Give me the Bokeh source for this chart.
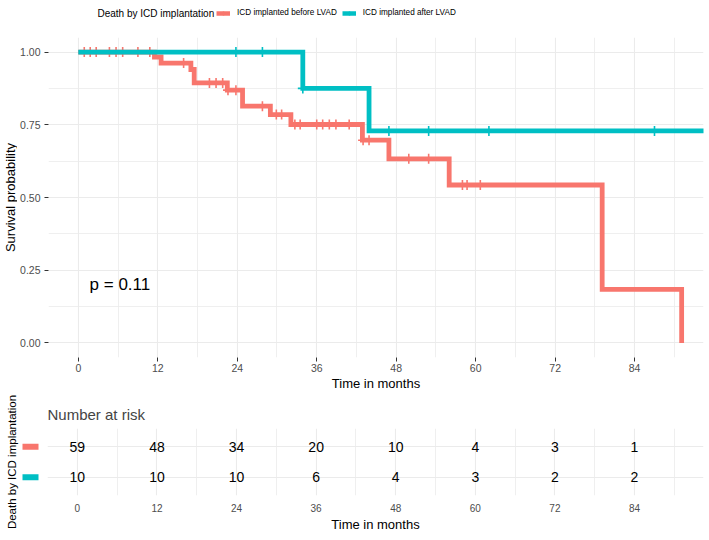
import numpy as np
from bokeh.plotting import figure
from bokeh.layouts import column, row
from bokeh.models import Range1d, FixedTicker, Legend, LegendItem, PrintfTickFormatter
from bokeh.core.properties import value
from bokeh.embed import file_html
from bokeh.resources import INLINE

FONT = "Liberation Sans"

# ---------------- data ----------------
group_names = ["ICD implanted before LVAD", "ICD implanted after LVAD"]
group_colors = ["#F8766D", "#00BFC4"]
legend_title = "Death by ICD implantation"

# Kaplan-Meier step curves (time in months, survival after the step)
before_times = [0, 11.5, 12.5, 17.0, 17.5, 22.5, 24.8, 29.0, 32.1, 42.9, 46.9, 56.0, 79.1, 91.1]
before_surv = [1.0, 0.983, 0.962, 0.94, 0.894, 0.869, 0.814, 0.785, 0.751, 0.697, 0.633, 0.543, 0.184, 0.0]
before_censored = [0.9, 1.8, 2.7, 4.7, 5.7, 6.7, 9.0, 10.8, 15.9, 19.8, 20.8, 21.8, 22.6, 23.8,
                   27.8, 29.9, 30.7, 32.7, 33.5, 36.0, 36.9, 37.9, 38.9, 40.9, 43.0, 43.9,
                   49.9, 52.9, 58.0, 58.7, 60.7]

after_times = [0, 33.9, 43.9, 97.0]
after_surv = [1.0, 0.875, 0.729, 0.729]
after_censored = [23.8, 27.8, 33.9, 46.9, 52.9, 62.0, 87.0]

p_value_text = "p = 0.11"
p_value_pos = (1.7, 0.2)

risk_times = [0, 12, 24, 36, 48, 60, 72, 84]
risk_before = [59, 48, 34, 20, 10, 4, 3, 1]
risk_after = [10, 10, 10, 6, 4, 3, 2, 2]
risk_rows = [2, 1]  # before on top, after below

x_ticks = [0, 12, 24, 36, 48, 60, 72, 84]
x_minor = [6, 18, 30, 42, 54, 66, 78, 90]
y_ticks = [0.0, 0.25, 0.5, 0.75, 1.0]
y_minor = [0.125, 0.375, 0.625, 0.875]

x_title = "Time in months"
y_title = "Survival probability"
risk_title = "Number at risk"

# ---------------- layout constants ----------------
TOTAL_W = 709
X0, X1 = -4.5, 94.4
Y0, Y1 = -0.05, 1.05
GRID = "#EBEBEB"
TICKC = "#4D4D4D"

H_TOP = 27            # legend strip
W_LAB = 17            # y-title strip
BL, BR = 30, 6        # main plot left/right border
W_MAIN = TOTAL_W - W_LAB
BT, BB = 10, 38
FRAME_H = 320
H_MAIN = BT + FRAME_H + BB

W_SW = W_LAB + BL     # swatch strip for risk table
SW_BL = 17
W_RISK = TOTAL_W - W_SW
RT, RB = 33, 45
RFRAME_H = 67
H_RISK = RT + RFRAME_H + RB
RY0, RY1 = 0.4, 2.6


def surv_at(times, surv, t):
    idx = np.searchsorted(np.array(times), np.array(t), side="right") - 1
    return np.array(surv)[idx]


# ---------------- legend strip ----------------
top = figure(width=TOTAL_W, height=H_TOP, x_range=Range1d(0, TOTAL_W), y_range=Range1d(0, H_TOP),
             output_backend="svg", toolbar_location=None, x_axis_location=None, y_axis_location=None,
             min_border=0)
top.outline_line_color = None
top.grid.visible = False
top.text(x=[97], y=[H_TOP - 12.5], text=[legend_title], text_align="left", text_baseline="middle",
         text_font=value(FONT), text_font_size="10px", text_color="black")
leg_items = []
for name, col in zip(group_names, group_colors):
    # off-canvas proxies: only used to draw the legend keys
    lr = top.step(x=[-100, -90], y=[-100, -100], mode="after", line_color=col, line_width=4.5)
    cr = top.scatter(x=[-100], y=[-100], marker="cross", size=9, line_color=col, line_width=1.5)
    leg_items.append(LegendItem(label=name, renderers=[lr, cr]))
legend = Legend(items=leg_items, orientation="horizontal", location=(216, H_TOP - 12.5 - 5),
                label_text_font=FONT, label_text_font_size="8.2px", label_text_color="black",
                glyph_width=14, glyph_height=10, label_height=10, label_standoff=7, spacing=5,
                padding=0, margin=0, border_line_color=None, background_fill_alpha=0)
top.add_layout(legend)

# ---------------- main KM plot ----------------
p = figure(width=W_MAIN, height=H_MAIN, x_range=Range1d(X0, X1), y_range=Range1d(Y0, Y1),
           output_backend="svg", toolbar_location=None,
           min_border_left=BL, min_border_right=BR, min_border_top=BT, min_border_bottom=BB)
p.outline_line_color = None
p.background_fill_color = "white"

p.xaxis.ticker = FixedTicker(ticks=x_ticks, minor_ticks=x_minor)
p.yaxis.ticker = FixedTicker(ticks=y_ticks, minor_ticks=y_minor)
p.yaxis.formatter = PrintfTickFormatter(format="%.2f")
for ax in (p.xaxis[0], p.yaxis[0]):
    ax.axis_line_color = None
    ax.major_tick_out = 4
    ax.major_tick_in = 0
    ax.major_tick_line_color = "#333333"
    ax.major_tick_line_width = 1
    ax.minor_tick_out = 0
    ax.minor_tick_in = 0
    ax.major_label_standoff = 2
    ax.major_label_text_font = FONT
    ax.major_label_text_font_size = "10.5px"
    ax.major_label_text_color = TICKC
p.yaxis.major_label_standoff = 4
p.xaxis.axis_label = x_title
p.xaxis.axis_label_standoff = 1
p.xaxis.axis_label_text_font = FONT
p.xaxis.axis_label_text_font_size = "13px"
p.xaxis.axis_label_text_font_style = "normal"
p.xaxis.axis_label_text_color = "black"

for g in (p.xgrid[0], p.ygrid[0]):
    g.grid_line_color = GRID
    g.grid_line_width = 1.1
    g.minor_grid_line_color = GRID
    g.minor_grid_line_width = 0.8

curves = [(before_times, before_surv, before_censored), (after_times, after_surv, after_censored)]
for (t, s, c), col in zip(curves, group_colors):
    p.step(t, s, mode="after", line_color=col, line_width=4.8, line_join="miter")
    p.scatter(c, surv_at(t, s, c), marker="cross", size=10, line_color=col, line_width=1.6)

p.text(x=[p_value_pos[0]], y=[p_value_pos[1]], text=[p_value_text], text_align="left",
       text_baseline="middle", text_font=value(FONT), text_font_size="17px", text_color="black")

# y-axis title strip (its frame is aligned with the main frame)
lab = figure(width=W_LAB, height=H_MAIN, x_range=Range1d(0, W_LAB), y_range=Range1d(Y0, Y1),
             output_backend="svg", toolbar_location=None, x_axis_location=None, y_axis_location=None,
             min_border=0)
lab.outline_line_color = None
lab.grid.visible = False
lab.text(x=[10], y=[(Y0 + Y1) / 2], text=[y_title], angle=np.pi / 2, text_align="center",
         text_baseline="middle", text_font=value(FONT), text_font_size="13px", text_color="black")

# ---------------- risk table ----------------
r = figure(width=W_RISK, height=H_RISK, x_range=Range1d(X0, X1), y_range=Range1d(RY0, RY1),
           output_backend="svg", toolbar_location=None, y_axis_location=None,
           min_border_left=0, min_border_right=BR, min_border_top=RT, min_border_bottom=RB)
r.outline_line_color = None
r.title.text = risk_title
r.title.text_font = FONT
r.title.text_font_size = "15px"
r.title.text_font_style = "normal"
r.title.align = "left"
r.title.standoff = 12
r.xaxis.ticker = FixedTicker(ticks=x_ticks, minor_ticks=x_minor)
ax = r.xaxis[0]
ax.axis_line_color = None
ax.major_tick_out = 0
ax.major_tick_in = 0
ax.minor_tick_out = 0
ax.minor_tick_in = 0
ax.major_label_standoff = 8
ax.major_label_text_font = FONT
ax.major_label_text_font_size = "10px"
ax.major_label_text_color = TICKC
ax.axis_label = x_title
ax.axis_label_standoff = 2
ax.axis_label_text_font = FONT
ax.axis_label_text_font_size = "13px"
ax.axis_label_text_font_style = "normal"
ax.axis_label_text_color = "black"
r.xgrid.grid_line_color = GRID
r.xgrid.grid_line_width = 1.1
r.xgrid.minor_grid_line_color = GRID
r.xgrid.minor_grid_line_width = 0.8
r.ygrid.ticker = FixedTicker(ticks=risk_rows)
r.ygrid.grid_line_color = GRID
r.ygrid.grid_line_width = 1.1

for vals, yrow in zip([risk_before, risk_after], risk_rows):
    r.text(x=risk_times, y=[yrow] * len(risk_times), text=[str(v) for v in vals],
           text_align="center", text_baseline="middle", text_font=value(FONT),
           text_font_size="14px", text_color="black")

# swatches + rotated group title for the risk table
sw = figure(width=W_SW, height=H_RISK, x_range=Range1d(SW_BL, W_SW), y_range=Range1d(RY0, RY1),
            output_backend="svg", toolbar_location=None, x_axis_location=None, y_axis_location="left",
            min_border_left=SW_BL, min_border_right=0, min_border_top=RT, min_border_bottom=RB)
sw.outline_line_color = None
sw.grid.visible = False
sax = sw.yaxis[0]
sax.ticker = FixedTicker(ticks=[])
sax.axis_line_color = None
sax.major_tick_out = 0
sax.minor_tick_out = 0
sax.major_label_standoff = 0
sax.axis_label = legend_title
sax.axis_label_standoff = 0
sax.axis_label_text_font = FONT
sax.axis_label_text_font_size = "11.5px"
sax.axis_label_text_font_style = "normal"
sax.axis_label_text_color = "black"
sw.rect(x=[30, 30], y=risk_rows, width=16, height=6, width_units="screen", height_units="screen",
        fill_color=group_colors, line_color=None)

layout = column(top, row(lab, p), row(sw, r))

with open("out.html", "w") as f:
    f.write(file_html(layout, INLINE))
